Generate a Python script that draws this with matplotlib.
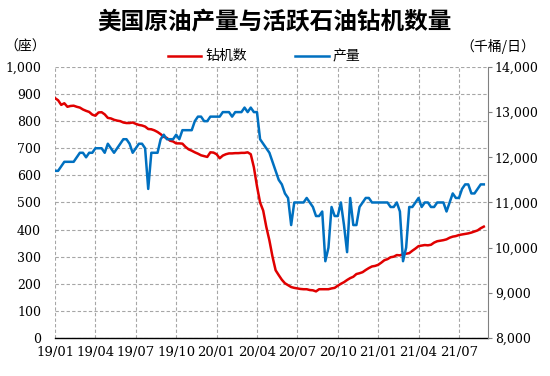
import numpy as np
import matplotlib
matplotlib.use("Agg")
import matplotlib.pyplot as plt

plt.rcParams['font.family'] = ['DejaVu Serif', 'Noto Sans CJK SC']

# weekly data, 2019/01 .. 2021/08
rigs = [885, 877, 860, 866, 853, 856, 857, 853, 850, 843,
        838, 834, 824, 820, 832, 833, 825, 812, 810, 805,
        802, 800, 795, 793, 793, 795, 790, 786, 784, 780,
        771, 770, 766, 760, 752, 742, 738, 728, 725, 718,
        718, 717, 705, 696, 691, 685, 680, 674, 671, 668,
        685, 684, 678, 663, 673, 678, 681, 681, 682, 682,
        683, 683, 685, 678, 630, 560, 500, 470, 410, 360,
        300, 250, 232, 215, 202, 195, 188, 185, 183, 181,
        180, 180, 177, 176, 172, 180, 180, 180, 180, 183,
        185, 193, 200, 206, 214, 221, 226, 236, 239, 243,
        251, 258, 264, 266, 270, 278, 287, 291, 298, 300,
        306, 305, 309, 311, 313, 322, 330, 339, 341, 343,
        342, 344, 352, 357, 359, 361, 364, 370, 374, 376,
        380, 382, 384, 386, 389, 393, 397, 405, 411]

output = [11700, 11700, 11800, 11900, 11900, 11900, 11900, 12000, 12100, 12100,
          12000, 12100, 12100, 12200, 12200, 12200, 12100, 12300, 12200, 12100,
          12200, 12300, 12400, 12400, 12300, 12100, 12200, 12300, 12300, 12200,
          11300, 12100, 12100, 12100, 12400, 12500, 12400, 12400, 12400, 12500,
          12400, 12600, 12600, 12600, 12600, 12800, 12900, 12900, 12800, 12800,
          12900, 12900, 12900, 12900, 13000, 13000, 13000, 12900, 13000, 13000,
          13000, 13100, 13000, 13100, 13000, 13000, 12400, 12300, 12200, 12100,
          11900, 11700, 11500, 11400, 11200, 11100, 10500, 11000, 11000, 11000,
          11000, 11100, 11000, 10900, 10700, 10700, 10800, 9700, 10000, 10900,
          10700, 10700, 11000, 10500, 9900, 11100, 10500, 10500, 10900, 11000,
          11100, 11100, 11000, 11000, 11000, 11000, 11000, 11000, 10900, 10900,
          11000, 10800, 9700, 10000, 10900, 10900, 11000, 11100, 10900, 11000,
          11000, 10900, 10900, 11000, 11000, 11000, 10800, 11000, 11200, 11100,
          11100, 11300, 11400, 11400, 11200, 11200, 11300, 11400, 11400]

xlabels = ['19/01', '19/04', '19/07', '19/10', '20/01', '20/04',
           '20/07', '20/10', '21/01', '21/04', '21/07']

x = np.arange(len(rigs))
xt = np.arange(len(xlabels)) * 13

fig = plt.figure(figsize=(5.5, 3.76), dpi=100)
ax = fig.add_axes([0.1, 0.101, 0.787, 0.721])
ax2 = ax.twinx()

ax.plot(x, rigs, color='#E00000', lw=1.8, label='钻机数')
ax2.plot(x, output, color='#0070C0', lw=1.8, label='产量')

ax.set_xlim(0, 139.3)
ax.set_ylim(0, 1000)
ax2.set_ylim(8000, 14000)

ax.set_yticks(np.arange(0, 1001, 100))
ax.set_yticklabels(['0'] + [str(v) for v in range(100, 1000, 100)] + ['1,000'])
ax2.set_yticks(np.arange(8000, 14001, 1000))
ax2.set_yticklabels(['{:,}'.format(v) for v in range(8000, 14001, 1000)])
ax.set_xticks(xt)
ax.set_xticklabels(xlabels)

ax.grid(True, color='#A6A6A6', ls=(0, (3, 2)), lw=0.8)
ax.set_axisbelow(True)
for a in (ax, ax2):
    a.spines['top'].set_visible(False)
    a.spines['left'].set_visible(False)
ax.spines['right'].set_visible(False)
ax2.spines['bottom'].set_visible(False)
ax2.spines['right'].set_color('#808080')
ax2.spines['right'].set_linewidth(0.8)
ax.spines['bottom'].set_color('black')
ax.spines['bottom'].set_linewidth(1.0)

ax.tick_params(axis='y', length=0, labelsize=9, pad=10)
ax.tick_params(axis='x', length=0, labelsize=9.5, pad=6)
ax2.tick_params(axis='y', length=3, width=0.8, color='#808080', labelsize=9, pad=2)

fig.text(0.5, 0.94, '美国原油产量与活跃石油钻机数量', ha='center', va='center',
         fontsize=17, fontweight='bold', family=['Noto Sans CJK SC'])
fig.text(0.045, 0.875, '（座）', ha='center', va='center', fontsize=10,
         family=['Noto Sans CJK SC'])
fig.text(0.905, 0.875, '（千桶/日）', ha='center', va='center', fontsize=10,
         family=['Noto Sans CJK SC'])

h1, l1 = ax.get_legend_handles_labels()
h2, l2 = ax2.get_legend_handles_labels()
fig.legend(h1 + h2, l1 + l2, loc='center', bbox_to_anchor=(0.48, 0.85), ncol=2,
           frameon=False, handlelength=2.4, handletextpad=0.3,
           columnspacing=3.5, prop={'family': ['Noto Sans CJK SC'], 'size': 10})

fig.savefig('out.png', dpi=100)
